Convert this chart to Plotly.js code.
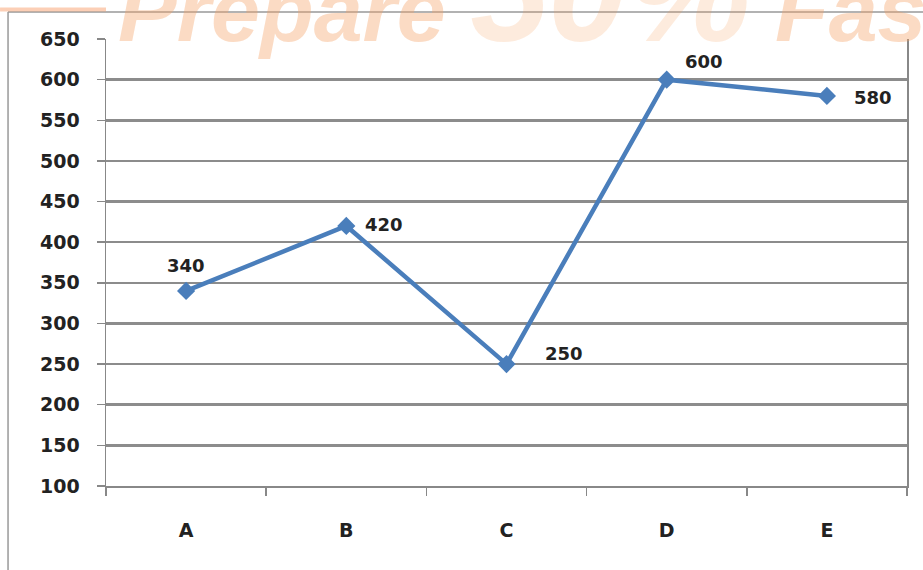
<!DOCTYPE html>
<html>
<head>
<meta charset="utf-8">
<script src="https://cdn.plot.ly/plotly-3.0.1.min.js"></script>
<style>html,body{margin:0;padding:0;background:#fff;}#chart{width:923px;height:570px;}</style>
</head>
<body>
<div id="chart"></div>
<script>
const categories = ["A", "B", "C", "D", "E"];
const values = [340, 420, 250, 600, 580];
const yTicks = [100, 150, 200, 250, 300, 350, 400, 450, 500, 550, 600, 650];
const watermarkParts = ["Prepare ", "50%", " Faster"];

// label placement (style only): anchor and pixel shifts relative to each point
const labelAnchor = ["center", "left", "left", "left", "left"];
const labelShiftX = [0, 17, 36, 16, 25];
const labelShiftY = [25, 1, 11, 18, -2];

const font = "'DejaVu Sans', sans-serif";
const textColor = "#222222";

const trace = {
  x: categories,
  y: values,
  type: "scatter",
  mode: "lines+markers",
  line: {color: "#4A7EBB", width: 4.5},
  marker: {symbol: "diamond", size: 14, color: "#4A7EBB"},
  cliponaxis: false,
  hoverinfo: "skip"
};

const labelAnnotations = categories.map((c, i) => ({
  x: c, y: values[i], xref: "x", yref: "y",
  text: String(values[i]), showarrow: false,
  xanchor: labelAnchor[i], yanchor: "middle",
  xshift: labelShiftX[i], yshift: labelShiftY[i],
  font: {family: font, size: 18, color: textColor, weight: "bold"}
}));

const watermark = "<b><i>" + watermarkParts[0] +
  "<span style='font-size:140px;fill:rgba(244,150,80,0.5)'>" + watermarkParts[1] + "</span>" +
  watermarkParts[2] + "</i></b>";

const layout = {
  width: 923,
  height: 570,
  margin: {l: 106, r: 16, t: 39, b: 84},
  paper_bgcolor: "#ffffff",
  plot_bgcolor: "#ffffff",
  showlegend: false,
  xaxis: {
    type: "category",
    range: [-0.5, 4.5],
    showgrid: false,
    ticks: "outside",
    tickson: "boundaries",
    ticklen: 8,
    tickcolor: "#888888",
    tickwidth: 1.5,
    showline: true,
    linecolor: "#888888",
    linewidth: 1.5,
    ticklabelstandoff: 27,
    tickfont: {family: font, size: 19, color: textColor, weight: "bold"},
    fixedrange: true
  },
  yaxis: {
    range: [100, 650],
    tickvals: yTicks,
    ticktext: yTicks.map(String),
    showgrid: true,
    gridcolor: "#8c8c8c",
    gridwidth: 2.5,
    zeroline: false,
    ticks: "outside",
    ticklen: 8,
    tickcolor: "#888888",
    tickwidth: 1.5,
    showline: true,
    mirror: true,
    linecolor: "#888888",
    linewidth: 1.5,
    ticklabelstandoff: 13,
    tickfont: {family: font, size: 19, color: textColor, weight: "bold"},
    fixedrange: true
  },
  shapes: [
    {type: "line", xref: "paper", yref: "paper", x0: -0.1223, x1: 1.03, y0: 1.0604, y1: 1.0604, line: {color: "#999999", width: 1.5}, layer: "below"},
    {type: "line", xref: "paper", yref: "paper", x0: -0.1223, x1: -0.1223, y0: 1.0604, y1: -0.2, line: {color: "#999999", width: 1.5}, layer: "below"},
    {type: "line", xref: "paper", yref: "paper", x0: -0.1323, x1: 0.0, y0: 1.066, y1: 1.066, line: {color: "rgba(250,160,110,0.5)", width: 4}, layer: "below"}
  ],
  annotations: [
    {xref: "paper", yref: "paper", x: 0.012, y: 0.924, xanchor: "left", yanchor: "bottom", showarrow: false,
     text: watermark, font: {family: "'Liberation Sans', Arial, sans-serif", size: 88, color: "rgba(245,160,100,0.38)"}}
  ].concat(labelAnnotations)
};

Plotly.newPlot("chart", [trace], layout, {displayModeBar: false, staticPlot: true});
</script>
</body>
</html>
